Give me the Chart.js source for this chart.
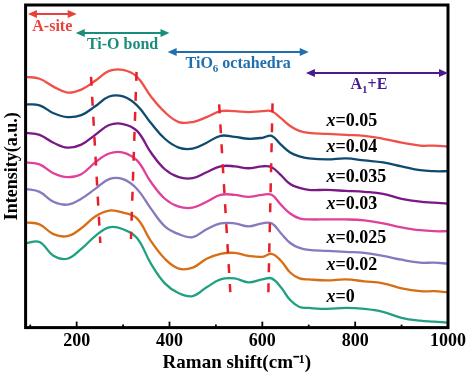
<!DOCTYPE html>
<html>
<head>
<meta charset="utf-8">
<script src="https://cdn.jsdelivr.net/npm/chart.js@4"></script>
<style>
  html, body { margin: 0; padding: 0; background: #fff; }
</style>
</head>
<body>
<canvas id="myChart" width="474" height="376"></canvas>
<script>
// Raman shift (cm-1) sample points
const ramanShift = [90, 120, 150, 180, 210, 240, 270, 300, 330, 360, 390, 420, 450, 480, 510, 540,
  570, 600, 620, 640, 660, 680, 700, 740, 780, 820, 860, 900, 940, 970, 1000];

// stacked intensities (a.u.)
const x005 = [255, 253, 245, 239, 242, 251, 261, 262, 255, 235, 219, 209, 209, 214, 220, 220,
  219, 220, 220, 213, 205, 200, 198, 197, 196, 195, 192, 188, 185, 185, 184];
const x004 = [227, 226, 218, 214, 216, 225, 235, 235, 226, 208, 192, 183, 182, 188, 195, 194,
  192, 193, 195, 186, 178, 174, 172, 171, 172, 170, 168, 164, 160, 159, 159];
const x0035 = [198, 196, 188, 183, 186, 196, 206, 207, 200, 178, 161, 153, 152, 158, 164, 164,
  162, 164, 163, 155, 146, 142, 140, 140, 139, 138, 136, 131, 128, 127, 126];
const x003 = [168, 166, 157, 153, 156, 168, 177, 178, 170, 148, 131, 123, 122, 128, 135, 135,
  133, 135, 135, 125, 116, 111, 110, 110, 110, 109, 106, 102, 99, 98, 98];
const x0025 = [141, 138, 128, 125, 131, 141, 151, 151, 141, 121, 103, 95, 92, 100, 106, 106,
  103, 106, 106, 96, 86, 81, 79, 78, 77, 76, 73, 69, 66, 66, 65];
const x002 = [107, 105, 95, 93, 101, 113, 119, 117, 111, 88, 70, 60, 61, 70, 75, 76,
  73, 72, 75, 68, 56, 50, 49, 48, 49, 47, 45, 40, 37, 37, 36];
const x0 = [86, 87, 73, 70, 80, 93, 102, 100, 91, 65, 45, 35, 32, 41, 49, 50,
  46, 49, 50, 41, 28, 21, 20, 19, 20, 19, 16, 10, 7, 6, 5];

const dopings = ["0.05", "0.04", "0.035", "0.03", "0.025", "0.02", "0"];
const series = [x005, x004, x0035, x003, x0025, x002, x0];
const lineColors = ["#f0504a", "#0e4b6e", "#7a1888", "#e0409a", "#8878c0", "#d86e14", "#20a080"];

// x axis tick values
const majorTicks = [200, 400, 600, 800, 1000];
const minorTicks = [100, 300, 500, 700, 900];

// red dashed peak-shift guides (top point -> bottom point)
const guideTopX = [231, 329, 507, 622];
const guideTopY = [255, 260, 227, 228];
const guideBottomX = [251, 317, 531, 613];
const guideBottomY = [86, 90, 36, 36];

// vibration regions shown with arrows on top
const bandNames = ["A-site", "Ti-O bond", "TiO6 octahedra", "A1+E"];
const bandStart = [95, 198, 396, 694];
const bandEnd = [200, 400, 700, 1000];
const bandColors = ["#e8403a", "#1a8c7c", "#1f6fae", "#4a1a8e"];

const serif = "'Liberation Serif', 'Times New Roman', serif";

const datasets = [];
for (let i = 0; i < guideTopX.length; i++) {
  datasets.push({
    data: [{ x: guideTopX[i], y: guideTopY[i] }, { x: guideBottomX[i], y: guideBottomY[i] }],
    borderColor: "#e5202a",
    borderWidth: 2.5,
    borderDash: [9, 11],
    pointRadius: 0,
    tension: 0,
    order: 0,
  });
}
series.forEach(function (vals, i) {
  datasets.push({
    data: ramanShift.map((r, k) => ({ x: r, y: vals[k] })),
    borderColor: lineColors[i],
    borderWidth: 2.3,
    pointRadius: 0,
    tension: 0.4,
    order: 1,
  });
});

function arrowHead(ctx, x, y, dir) {
  ctx.beginPath();
  ctx.moveTo(x, y);
  ctx.lineTo(x - dir * 9, y - 4);
  ctx.lineTo(x - dir * 9, y + 4);
  ctx.closePath();
  ctx.fill();
}

// frame, inward ticks, arrows and sample labels
const decorPlugin = {
  id: "decor",
  afterDraw(chart) {
    const ctx = chart.ctx;
    const a = chart.chartArea;
    const xs = chart.scales.x;
    ctx.save();

    ctx.strokeStyle = "#000";
    ctx.lineWidth = 1.8;
    majorTicks.concat(minorTicks).forEach(function (v) {
      const px = xs.getPixelForValue(v);
      const len = v % 200 === 0 ? 6 : 3;
      ctx.beginPath();
      ctx.moveTo(px, a.bottom);
      ctx.lineTo(px, a.bottom - len);
      ctx.stroke();
    });
    ctx.lineWidth = 3;
    ctx.strokeRect(a.left, a.top, a.right - a.left, a.bottom - a.top);

    const arrowY = [9, 28, 47, 68];
    const textY = [22, 40, 59, 80];
    for (let i = 0; i < bandNames.length; i++) {
      const x1 = xs.getPixelForValue(bandStart[i]);
      const x2 = xs.getPixelForValue(bandEnd[i]);
      const y = a.top + arrowY[i];
      ctx.strokeStyle = bandColors[i];
      ctx.fillStyle = bandColors[i];
      ctx.lineWidth = 2;
      ctx.beginPath();
      ctx.moveTo(x1 + 4, y);
      ctx.lineTo(x2 - 4, y);
      ctx.stroke();
      arrowHead(ctx, x1, y, -1);
      arrowHead(ctx, x2, y, 1);

      const cx = (x1 + x2) / 2;
      const ty = a.top + textY[i];
      ctx.font = "bold 16px " + serif;
      ctx.textBaseline = "middle";
      const name = bandNames[i];
      if (name === "TiO6 octahedra" || name === "A1+E") {
        // subscript digit
        const pre = name === "A1+E" ? "A" : "TiO";
        const sub = name === "A1+E" ? "1" : "6";
        const post = name === "A1+E" ? "+E" : " octahedra";
        ctx.font = "bold 16px " + serif;
        const w1 = ctx.measureText(pre).width;
        const w3 = ctx.measureText(post).width;
        ctx.font = "bold 11px " + serif;
        const w2 = ctx.measureText(sub).width;
        const sx = cx - (w1 + w2 + w3) / 2 - (name === "A1+E" ? 8 : 0);
        ctx.textAlign = "left";
        ctx.font = "bold 16px " + serif;
        ctx.fillText(pre, sx, ty);
        ctx.font = "bold 11px " + serif;
        ctx.fillText(sub, sx + w1, ty + 5);
        ctx.font = "bold 16px " + serif;
        ctx.fillText(post, sx + w1 + w2, ty);
      } else {
        ctx.textAlign = "center";
        ctx.fillText(name, cx, ty);
      }
    }

    const labelY = [210, 183, 153, 125, 91, 63, 31];
    ctx.fillStyle = "#000";
    ctx.textBaseline = "middle";
    ctx.textAlign = "left";
    dopings.forEach(function (d, i) {
      const px = xs.getPixelForValue(738);
      const py = chart.scales.y.getPixelForValue(labelY[i]);
      ctx.font = "italic bold 18px " + serif;
      ctx.fillText("x", px, py);
      const w = ctx.measureText("x").width;
      ctx.font = "bold 18px " + serif;
      ctx.fillText("=" + d, px + w, py);
    });
    ctx.restore();
  },
};

const ctx = document.getElementById("myChart").getContext("2d");
const myChart = new Chart(ctx, {
  type: "line",
  data: { datasets: datasets },
  plugins: [decorPlugin],
  options: {
    responsive: false,
    animation: false,
    layout: { padding: { left: 2, right: 26, top: 5, bottom: 0 } },
    plugins: { legend: { display: false }, tooltip: { enabled: false } },
    scales: {
      x: {
        type: "linear",
        min: 90,
        max: 1000,
        afterBuildTicks: (scale) => {
          scale.ticks = majorTicks.map((v) => ({ value: v }));
        },
        grid: { display: false, drawTicks: false },
        border: { display: false },
        ticks: {
          autoSkip: false,
          maxRotation: 0,
          padding: 3,
          color: "#000",
          font: { family: serif, size: 18, weight: "bold" },
          callback: (v) => String(v),
        },
        title: {
          display: true,
          text: "Raman shift(cm\u207B\u00B9)",
          color: "#000",
          padding: { top: -4, bottom: 2 },
          font: { family: serif, size: 19, weight: "bold" },
        },
      },
      y: {
        min: 0,
        max: 328,
        grid: { display: false, drawTicks: false },
        border: { display: false },
        ticks: { display: false },
        title: {
          display: true,
          text: "Intensity(a.u.)",
          color: "#000",
          padding: { top: 0, bottom: 2 },
          font: { family: serif, size: 18, weight: "bold" },
        },
      },
    },
  },
});
</script>
</body>
</html>
